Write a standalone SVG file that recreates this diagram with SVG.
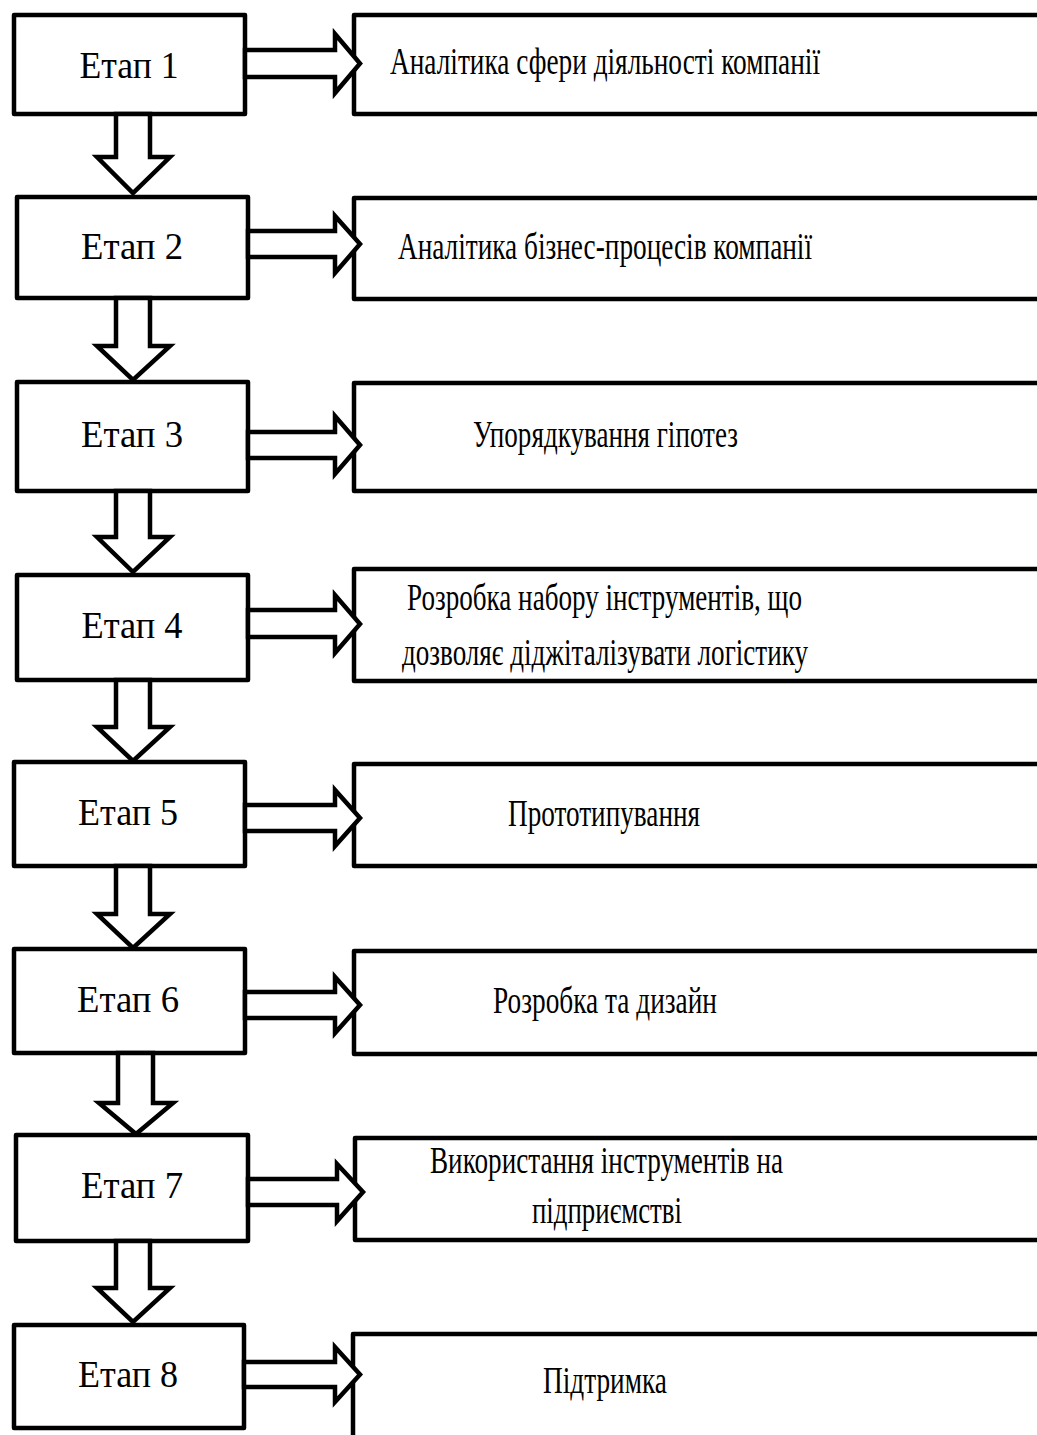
<svg xmlns="http://www.w3.org/2000/svg" width="1037" height="1435" viewBox="0 0 1037 1435">
<style>
.box{fill:#fff;stroke:#000;stroke-width:4.5;stroke-linejoin:round}
.arr{fill:#fff;stroke:#000;stroke-width:4.5;stroke-linejoin:miter;stroke-miterlimit:10}
.t{font-family:'Liberation Serif','DejaVu Serif',serif;font-size:38px;fill:#000;text-anchor:middle}
</style>
<rect width="1037" height="1435" fill="#fff"/>
<g id="stage1"><rect class="box" x="14" y="15" width="231" height="99"/><text class="t" x="129" y="78" textLength="99" lengthAdjust="spacingAndGlyphs">Етап 1</text></g>
<g id="stage2"><rect class="box" x="17" y="197" width="231" height="101"/><text class="t" x="132" y="259" textLength="102" lengthAdjust="spacingAndGlyphs">Етап 2</text></g>
<g id="stage3"><rect class="box" x="17" y="382" width="231" height="109"/><text class="t" x="132" y="447" textLength="102" lengthAdjust="spacingAndGlyphs">Етап 3</text></g>
<g id="stage4"><rect class="box" x="17" y="575" width="231" height="105"/><text class="t" x="132" y="638" textLength="101" lengthAdjust="spacingAndGlyphs">Етап 4</text></g>
<g id="stage5"><rect class="box" x="14" y="762" width="231" height="104"/><text class="t" x="128" y="825" textLength="100" lengthAdjust="spacingAndGlyphs">Етап 5</text></g>
<g id="stage6"><rect class="box" x="14" y="949" width="231" height="104"/><text class="t" x="128" y="1012" textLength="102" lengthAdjust="spacingAndGlyphs">Етап 6</text></g>
<g id="stage7"><rect class="box" x="16" y="1135" width="232" height="106"/><text class="t" x="132" y="1198" textLength="102" lengthAdjust="spacingAndGlyphs">Етап 7</text></g>
<g id="stage8"><rect class="box" x="14" y="1325" width="230" height="103"/><text class="t" x="128" y="1387" textLength="100" lengthAdjust="spacingAndGlyphs">Етап 8</text></g>
<g id="task1"><rect class="box" x="354" y="15" width="700" height="99"/><text class="t" x="605" y="74" textLength="430" lengthAdjust="spacingAndGlyphs">Аналітика сфери діяльності компанії</text></g>
<g id="task2"><rect class="box" x="354" y="198" width="700" height="101"/><text class="t" x="605" y="259" textLength="414" lengthAdjust="spacingAndGlyphs">Аналітика бізнес-процесів компанії</text></g>
<g id="task3"><rect class="box" x="354" y="383" width="700" height="108"/><text class="t" x="605.5" y="447" textLength="265" lengthAdjust="spacingAndGlyphs">Упорядкування гіпотез</text></g>
<g id="task4"><rect class="box" x="354" y="569" width="700" height="112"/><text class="t" x="604.5" y="610" textLength="395" lengthAdjust="spacingAndGlyphs">Розробка набору інструментів, що</text><text class="t" x="605" y="665" textLength="406" lengthAdjust="spacingAndGlyphs">дозволяє діджіталізувати логістику</text></g>
<g id="task5"><rect class="box" x="354" y="764" width="700" height="102"/><text class="t" x="604" y="826" textLength="192" lengthAdjust="spacingAndGlyphs">Прототипування</text></g>
<g id="task6"><rect class="box" x="354" y="951" width="700" height="103"/><text class="t" x="605" y="1013" textLength="224" lengthAdjust="spacingAndGlyphs">Розробка та дизайн</text></g>
<g id="task7"><rect class="box" x="355" y="1138" width="700" height="102"/><text class="t" x="606.5" y="1173" textLength="353" lengthAdjust="spacingAndGlyphs">Використання інструментів на</text><text class="t" x="607" y="1223" textLength="150" lengthAdjust="spacingAndGlyphs">підприємстві</text></g>
<g id="task8"><rect class="box" x="353" y="1334" width="700" height="120"/><text class="t" x="605" y="1393" textLength="124" lengthAdjust="spacingAndGlyphs">Підтримка</text></g>
<g id="connectors">
<polygon class="arr" points="116,114 116,157 97,157 133,193 170,157 150,157 150,114"/>
<polygon class="arr" points="116,298 116,346 97,346 133,380 170,346 150,346 150,298"/>
<polygon class="arr" points="116,491 116,537 97,537 133,572 170,537 150,537 150,491"/>
<polygon class="arr" points="116,680 116,727 97,727 133,761 170,727 150,727 150,680"/>
<polygon class="arr" points="116,866 116,914 97,914 133,948 170,914 150,914 150,866"/>
<polygon class="arr" points="118,1053 118,1103 99,1103 136,1134 173,1103 153,1103 153,1053"/>
<polygon class="arr" points="116,1241 116,1288 97,1288 133,1322 170,1288 150,1288 150,1241"/>
<polygon class="arr" points="245,50 335,50 335,34 360,63.5 335,93 335,77 245,77"/>
<polygon class="arr" points="248,231 335,231 335,216 360,244 335,273 335,257 248,257"/>
<polygon class="arr" points="248,432 335,432 335,416 360,445 335,474 335,458 248,458"/>
<polygon class="arr" points="248,610 335,610 335,595 360,624 335,653 335,637 248,637"/>
<polygon class="arr" points="245,805 335,805 335,790 360,818 335,846 335,831 245,831"/>
<polygon class="arr" points="245,992 335,992 335,977 360,1005 335,1033 335,1018 245,1018"/>
<polygon class="arr" points="248,1179 337,1179 337,1164 363,1192 337,1221 337,1205 248,1205"/>
<polygon class="arr" points="244,1362 335,1362 335,1347 360,1374.5 335,1402 335,1387 244,1387"/>
</g>
</svg>
